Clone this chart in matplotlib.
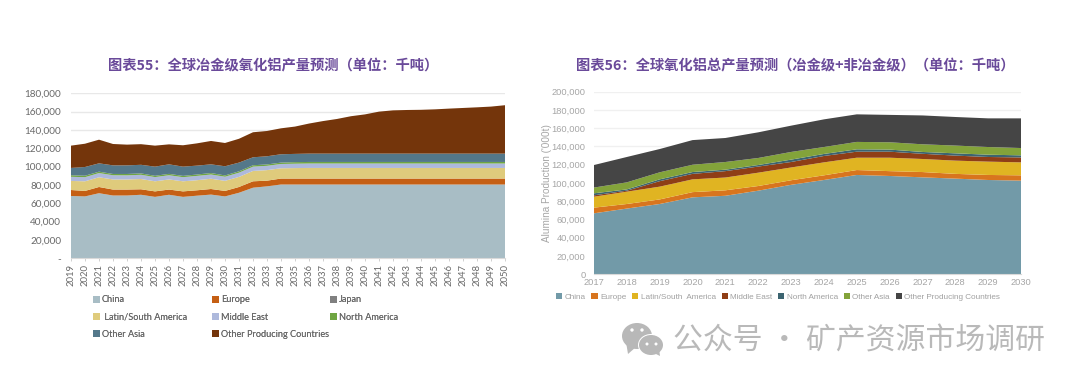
import matplotlib
matplotlib.use("Agg")
import matplotlib.pyplot as plt
from matplotlib.patches import Ellipse, Patch, Polygon
from matplotlib.ticker import FuncFormatter

# ---------- left chart data (thousand tonnes) ----------
years_l = list(range(2019, 2051))
china_l = [68000,67500,71000,68500,68500,69300,67000,69300,67000,68300,69500,67500,71500,77000,78500,80500,80500,
           80500,80500,80500,80500,80500,80500,80500,80500,80500,80500,80500,80500,80500,80500,80500]
europe_l = [6500,6000,6800,6500,6500,6000,6000,5700,6000,5900,6100,6000,6300,7000,6200,6500,6500,
            6500,6500,6500,6500,6500,6500,6500,6500,6500,6500,6500,6500,6500,6500,6500]
japan_l = [0]*32
latam_l = [9900,10500,10600,11000,11000,11200,11000,11000,11000,11000,11200,11000,11000,11300,11500,11200,11400,
           11600,11600,11600,11600,11600,11600,11600,11600,11600,11600,11600,11600,11600,11600,11600]
mideast_l = [4500,4500,4600,4600,4500,4600,4600,4600,4500,4700,4600,4500,4600,4700,4700,4700,4800,
             4800,4800,4800,4800,4800,4800,4800,4800,4800,4800,4800,4800,4800,4800,4800]
namerica_l = [1700,1600,1500,1400,1500,1500,1400,1500,1400,1500,1600,1400,1500,1500,1500,1500,1700,
              1700,1700,1700,1700,1700,1700,1700,1700,1700,1700,1700,1700,1700,1700,1700]
oasia_l = [8000,9500,9100,9400,9400,9400,10000,10400,10100,9700,9500,10000,9500,8700,8900,9100,9000,
           9100,9100,9100,9100,9100,9100,9100,9100,9100,9100,9100,9100,9100,9100,9100]
other_l = [24300,25400,25800,23300,22600,22500,22900,21800,23300,24300,25500,25400,26000,27300,27600,28300,29800,
           32800,35500,37800,40800,42800,45800,47200,47600,47800,48300,49100,49800,50500,51300,52800]
names_l = ["China", "Europe", "Japan", " Latin/South America", "Middle East", "North America", "Other Asia",
           "Other Producing Countries"]
colors_l = ["#a8bdc5", "#c55f14", "#808080", "#dfcb7c", "#aeb9dc", "#6fa542", "#54788a", "#74350b"]

# ---------- right chart data ('000t) ----------
years_r = list(range(2017, 2031))
china_r = [66800,72000,77000,84300,86000,91600,98000,103300,108800,107700,106200,104800,103300,102600]
europe_r = [6200,5000,5000,5700,6000,5100,5000,5100,5400,5300,5800,5200,5500,5800]
latam_r = [12000,13500,14000,14000,14000,14600,14000,14200,13500,14700,14300,14500,14600,14200]
mideast_r = [1500,1100,6000,6000,7000,6700,6000,7000,6600,6600,5700,5500,5100,5400]
namerica_r = [2200,1400,2000,2000,1600,1700,2600,2200,2600,2300,2000,2500,2500,2300]
oasia_r = [6300,7700,7700,8000,8400,7700,8400,7600,8100,8000,8400,8500,8400,8000]
other_r = [24700,27800,25500,27000,26300,28100,28800,30300,30200,30000,31600,31300,31400,32500]
names_r = ["China", "Europe", "Latin/South  America", "Middle East", "North America", "Other Asia",
           "Other Producing Countries"]
colors_r = ["#729aa8", "#d8751e", "#e0b422", "#8f3e16", "#3c6470", "#83a33a", "#454545", ]

title_l = "图表55：全球冶金级氧化铝产量预测（单位：千吨）"
title_r = "图表56：全球氧化铝总产量预测（冶金级+非冶金级）（单位：千吨）"
watermark = "公众号 · 矿产资源市场调研"
ylabel_r = "Alumina Production ('000t)"

W, H = 1080, 384
CJK = ["Noto Sans CJK SC", "DejaVu Sans"]
PURPLE = "#6a4a9a"
GRID = "#e8e8e8"

def axes_px(fig, x0, x1, ytop, ybot):
    return fig.add_axes([x0/W, 1-ybot/H, (x1-x0)/W, (ybot-ytop)/H])

def commas(v, _):
    return f"{int(v):,}"

fig = plt.figure(figsize=(W/100, H/100), dpi=100, facecolor="white")

# ---------- left ----------
ax = axes_px(fig, 71, 505, 93.3, 258.3)
polys = ax.stackplot(years_l, china_l, europe_l, japan_l, latam_l, mideast_l, namerica_l, oasia_l, other_l,
                     colors=colors_l, linewidth=0)
ax.set_xlim(2019, 2050)
ax.set_ylim(0, 180000)
ax.set_yticks(range(0, 180001, 20000))
ax.yaxis.set_major_formatter(FuncFormatter(lambda v, p: "-" if v == 0 else commas(v, p)))
ax.set_xticks(years_l)
ax.tick_params(axis="x", labelrotation=90, labelsize=6.8, labelcolor="#696969", color="#d0d0d0", length=2.5, width=.7, pad=1.5)
ax.tick_params(axis="y", labelsize=7.2, labelcolor="#696969", length=0, pad=7)
for lab in ax.get_xticklabels() + ax.get_yticklabels():
    lab.set_family("Lato")
ax.grid(axis="y", color=GRID, lw=1)
ax.set_axisbelow(True)
for s in ["top", "right", "left"]:
    ax.spines[s].set_visible(False)
ax.spines["bottom"].set_color("#d9d9d9")

# legend: three aligned columns
columns = [(93, [0, 3, 6]), (212, [1, 4, 7]), (330, [2, 5])]
for x_px, idx in columns:
    leg = fig.legend(handles=[Patch(facecolor=colors_l[i], label=names_l[i]) for i in idx],
                     loc="upper left", bbox_to_anchor=(x_px/W, 1-295.5/H), ncol=1, frameon=False,
                     prop={"family": "Lato", "size": 6.55}, labelcolor="#696969",
                     handlelength=.75, handleheight=.75, handletextpad=.2, labelspacing=.9,
                     borderpad=0, borderaxespad=0)
    fig.add_artist(leg)

fig.text(273.5/W, 1-66/H, title_l, family=CJK, fontsize=10.3, fontweight="bold", color=PURPLE, ha="center", va="center")

# ---------- right ----------
ax2 = axes_px(fig, 594, 1021, 91.7, 274.3)
ax2.stackplot(years_r, china_r, europe_r, latam_r, mideast_r, namerica_r, oasia_r, other_r,
              colors=colors_r, linewidth=0)
ax2.set_xlim(2017, 2030)
ax2.set_ylim(0, 200000)
ax2.set_yticks(range(0, 200001, 20000))
ax2.yaxis.set_major_formatter(FuncFormatter(commas))
ax2.set_xticks(years_r)
ax2.tick_params(axis="both", labelsize=6.7, labelcolor="#a6a6a6", length=0)
ax2.tick_params(axis="x", pad=3)
ax2.tick_params(axis="y", pad=6)
for lab in ax2.get_xticklabels() + ax2.get_yticklabels():
    lab.set_family("Liberation Sans")
ax2.grid(axis="y", color="#f0f0f0", lw=1)
ax2.set_axisbelow(True)
for s in ["top", "right", "left"]:
    ax2.spines[s].set_visible(False)
ax2.spines["bottom"].set_color("#d9d9d9")
fig.text(546.5/W, 1-183.5/H, ylabel_r, family="Liberation Sans", fontsize=7.2, color="#a6a6a6",
         rotation=90, ha="center", va="center")

fig.legend(handles=[Patch(facecolor=c, label=n) for c, n in zip(colors_r, names_r)],
           loc="center left", bbox_to_anchor=(556/W, 1-297/H), ncol=7, frameon=False,
           prop={"family": "Liberation Sans", "size": 5.9}, labelcolor="#a0a0a0",
           handlelength=.75, handleheight=.75, handletextpad=.3, columnspacing=.7,
           borderpad=0, borderaxespad=0)

fig.text(795.5/W, 1-66.5/H, title_r, family=CJK, fontsize=10.3, fontweight="bold", color=PURPLE, ha="center", va="center")

# ---------- watermark ----------
overlay = fig.add_axes([0, 0, 1, 1], facecolor="none")
overlay.set_xlim(0, W)
overlay.set_ylim(H, 0)
overlay.axis("off")
ICON = "#b8b8b8"
overlay.add_patch(Ellipse((637, 336), 30, 26, color=ICON, lw=0))
overlay.add_patch(Polygon([[626, 342], [628, 354], [636, 347]], color=ICON, lw=0))
overlay.add_patch(Ellipse((651, 345), 26, 22, color="white", lw=0))
overlay.add_patch(Ellipse((651, 345), 24, 20, color=ICON, lw=0))
overlay.add_patch(Polygon([[652, 352], [660, 356], [659, 348]], color=ICON, lw=0))
for cx, cy, r in [(632, 330, 1.7), (642, 330, 1.7), (647, 344, 1.5), (656, 344, 1.5)]:
    overlay.add_patch(Ellipse((cx, cy), 2*r, 2*r, color="white", lw=0))
overlay.text(859, 341, watermark, family=CJK, fontsize=21.5, color="#b9b9b9", ha="center", va="center")

fig.savefig("out.png", dpi=100, facecolor="white")
